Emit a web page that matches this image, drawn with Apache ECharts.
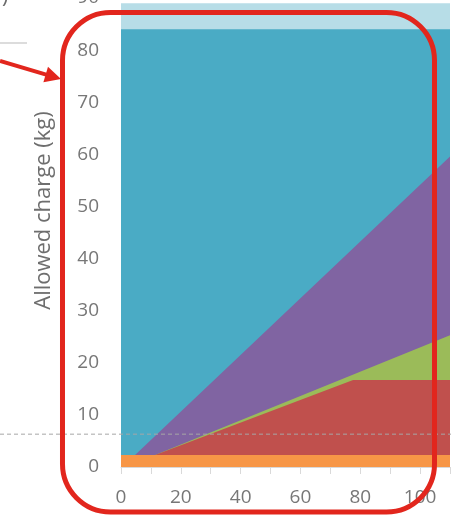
<!DOCTYPE html>
<html><head><meta charset="utf-8">
<script src="https://cdn.jsdelivr.net/npm/echarts@6/dist/echarts.min.js"></script>
<style>html,body{margin:0;padding:0;background:#fff}#c{width:451px;height:515px}</style>
</head><body><div id="c"></div>
<script>
// Upper boundary of each stacked band (cumulative tops), [occupancy, kg]
var lightBlueTop = [[0, 89.0], [110, 89.0]];
var tealTop      = [[0, 84], [110, 84]];
var purpleTop    = [[0, 2.3], [4.7, 2.3], [110, 59.6]];
var greenTop     = [[0, 2.3], [11.4, 2.3], [110, 25.3]];
var redTop       = [[0, 2.3], [11.4, 2.3], [77.6, 16.7], [110, 16.7]];
var orangeTop    = [[0, 2.3], [110, 2.3]];
var dashedLevel  = 6.3;
var yAxisName    = 'Allowed charge (kg)';

var colors = {lightBlue:'#b7dde7', teal:'#4aabc5', purple:'#8064a2', green:'#9bbb59', red:'#c0504d', orange:'#f79646'};

function band(name, data, color) {
  return {name: name, type: 'line', data: data, showSymbol: false, symbol: 'none',
    lineStyle: {width: 0}, areaStyle: {color: color, opacity: 1}, itemStyle: {color: color},
    silent: true, animation: false};
}

var chart = echarts.init(document.getElementById('c'), null, {renderer: 'canvas'});
chart.setOption({
  animation: false,
  grid: {left: 121, right: 1, top: -2, bottom: 48, containLabel: false, outerBoundsMode: 'none'},
  xAxis: {type: 'value', min: 0, max: 110, interval: 10,
    axisLine: {show: true, lineStyle: {color: '#d9d9d9', width: 1}},
    axisTick: {show: true, length: 7, lineStyle: {color: '#d9d9d9'}},
    splitLine: {show: false},
    axisLabel: {margin: 21, color: '#777777', fontFamily: 'Open Sans', fontSize: 19,
      formatter: function (v) { return (v % 20 === 0 && v <= 100) ? String(v) : ''; }}},
  yAxis: {type: 'value', min: 0, max: 90, interval: 10,
    name: yAxisName, nameLocation: 'middle', nameGap: 66, nameRotate: 90,
    nameTextStyle: {color: '#6e6e6e', fontFamily: 'Open Sans', fontSize: 22, padding: [0, 0, 0, 44]},
    axisLine: {show: false}, axisTick: {show: false}, splitLine: {show: false},
    axisLabel: {margin: 22, color: '#777777', fontFamily: 'Open Sans', fontSize: 19}},
  series: [
    band('lightBlue', lightBlueTop, colors.lightBlue),
    band('teal', tealTop, colors.teal),
    band('purple', purpleTop, colors.purple),
    band('green', greenTop, colors.green),
    band('red', redTop, colors.red),
    band('orange', orangeTop, colors.orange)
  ]
});

var yDash = chart.convertToPixel({gridIndex: 0}, [0, dashedLevel])[1];
var red = '#e2261d';
chart.setOption({
  graphic: [
    {type: 'line', silent: true, z: 100, shape: {x1: 0, y1: yDash, x2: 451, y2: yDash},
      style: {stroke: '#a6a6a6', lineWidth: 1, lineDash: [4, 3]}},
    {type: 'line', silent: true, z: 100, shape: {x1: 0, y1: 43, x2: 27, y2: 43},
      style: {stroke: '#d0d0d0', lineWidth: 1.5}},
    {type: 'text', silent: true, z: 100, left: 2, top: -13,
      style: {text: ')', fill: '#6a6a6a', font: '21px "Open Sans"'}},
    {type: 'rect', silent: true, z: 110, shape: {x: 62.5, y: 12.5, width: 372, height: 499.5, r: 48},
      style: {fill: 'none', stroke: red, lineWidth: 5}},
    {type: 'line', silent: true, z: 110, shape: {x1: 0, y1: 61, x2: 47, y2: 74.8},
      style: {stroke: red, lineWidth: 4}},
    {type: 'polygon', silent: true, z: 110, shape: {points: [[61, 79], [43.4, 82.2], [48.0, 66.8]]},
      style: {fill: red}}
  ]
});
</script></body></html>
